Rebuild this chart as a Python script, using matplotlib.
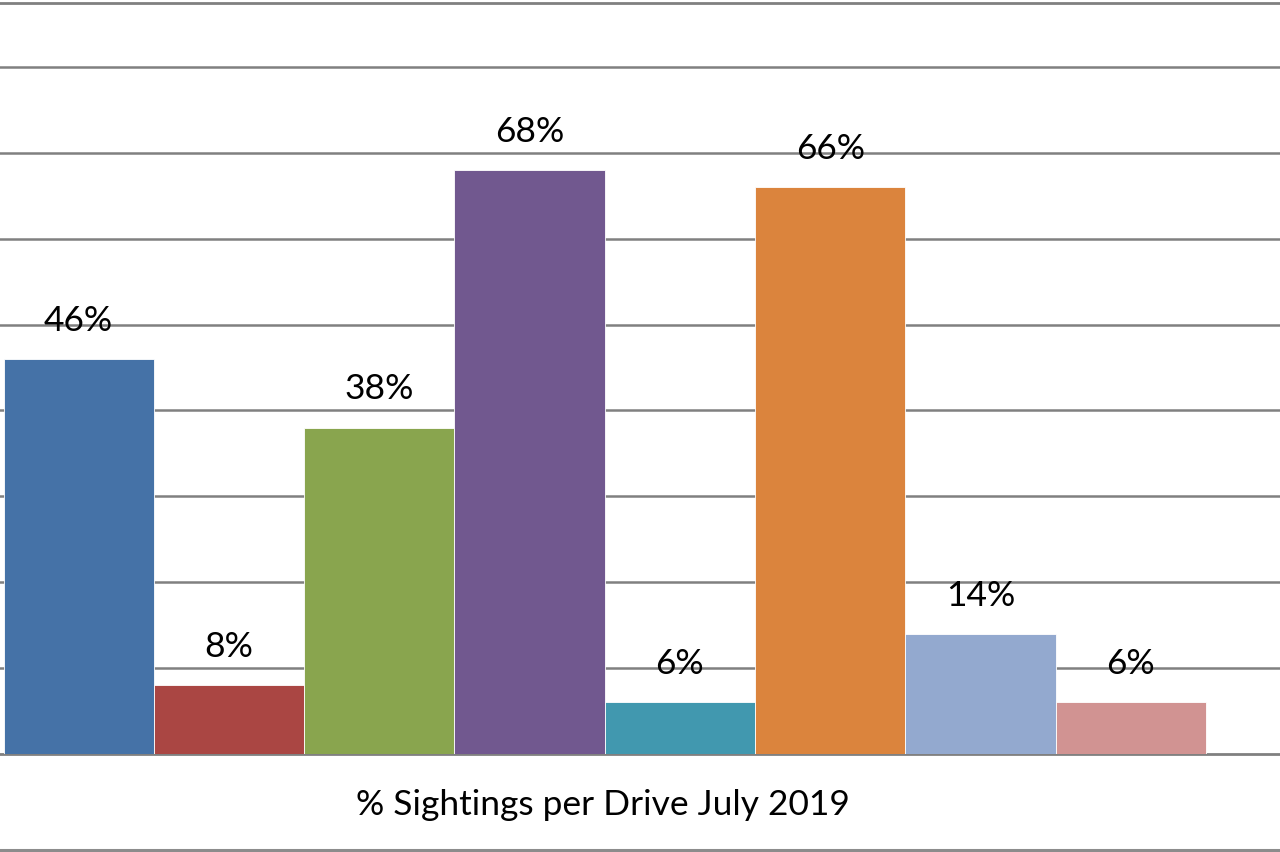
import matplotlib
matplotlib.use("Agg")
import matplotlib.pyplot as plt
from matplotlib.lines import Line2D

# one category, eight series (legend is outside the crop)
values = [0.46, 0.08, 0.38, 0.68, 0.06, 0.66, 0.14, 0.06]
labels = ['46%', '8%', '38%', '68%', '6%', '66%', '14%', '6%']
colors = ['#4572A7', '#AA4643', '#89A54E', '#71588F',
          '#4198AF', '#DB843D', '#93A9CF', '#D19392']
category = '% Sightings per Drive July 2019'

plt.rcParams['font.family'] = ['Lato', 'DejaVu Sans']

W, H = 1280, 853
fig = plt.figure(figsize=(W / 100, H / 100), dpi=100)
ax = fig.add_axes([0, (H - 755) / H, 1, (755 - 4) / H])

x = list(range(len(values)))
bars = ax.bar(x, values, width=1.0, color=colors, edgecolor='white',
              linewidth=0.6, zorder=3)

for xi, v, lab in zip(x, values, labels):
    ax.annotate(lab, (xi, v), xytext=(0, 21), textcoords='offset points',
                ha='center', va='baseline', fontsize=25.5, color='black')

# cropped view: first bar starts ~3px in, axis runs past right edge
px_per_unit = (1206 - 3.5) / len(values)
x0 = -0.5 - 3.5 / px_per_unit
ax.set_xlim(x0, x0 + W / px_per_unit)
ax.set_ylim(0, (755 - 4) / 859)

ax.set_yticks([i / 10 for i in range(1, 9)])
ax.yaxis.grid(True, color='#808080', linewidth=1.8, zorder=0)
ax.set_axisbelow(True)
ax.tick_params(left=False, bottom=False, labelleft=False, labelbottom=False)

for s in ['left', 'right']:
    ax.spines[s].set_visible(False)
ax.spines['top'].set_color('#808080')
ax.spines['top'].set_linewidth(2.0)
ax.spines['bottom'].set_color('#808080')
ax.spines['bottom'].set_linewidth(2.0)

fig.text(603 / W, 1 - 805 / H, category, ha='center', va='center',
         fontsize=25.5, color='black')

# chart border at the bottom
fig.add_artist(Line2D([0, 1], [1 - 850.5 / H, 1 - 850.5 / H],
                      transform=fig.transFigure, color='#8c8c8c', linewidth=2.2))

fig.savefig('out.png', dpi=100, facecolor='white')
